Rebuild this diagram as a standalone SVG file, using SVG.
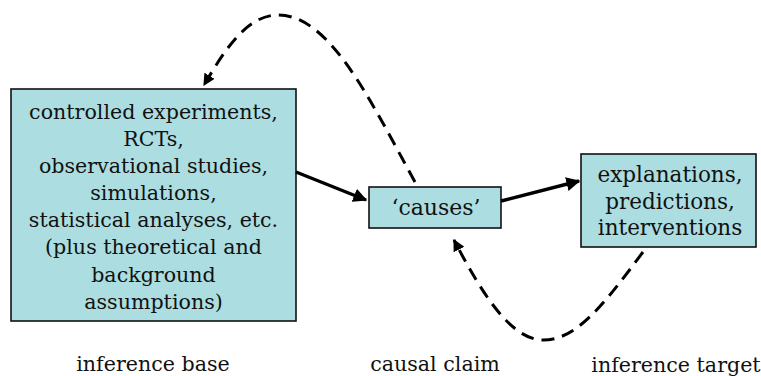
<svg xmlns="http://www.w3.org/2000/svg" width="761" height="376" viewBox="0 0 761 376">
<style>
.box{fill:#acdde1;stroke:#111;stroke-width:1.6}
.t{font-family:"DejaVu Serif","Liberation Serif",serif;font-size:20.6px;fill:#111;text-anchor:middle}
.r{font-size:21.5px}
.c{font-size:22px}
.solid{fill:none;stroke:#000;stroke-width:3.5}
.dash{fill:none;stroke:#000;stroke-width:3;stroke-dasharray:13,8}
</style>
<defs>
<marker id="ah" viewBox="0 0 10 10" refX="9" refY="5" markerWidth="4" markerHeight="4" orient="auto" markerUnits="strokeWidth">
<path d="M0,0 L10,5 L0,10 Z" fill="#000"/>
</marker>
</defs>
<rect width="761" height="376" fill="#fff"/>
<g id="base">
<rect class="box" x="11" y="89" width="285" height="232"/>
<text class="t" x="153.5" y="119">controlled experiments,</text>
<text class="t" x="153.5" y="146">RCTs,</text>
<text class="t" x="153.5" y="173">observational studies,</text>
<text class="t" x="153.5" y="200">simulations,</text>
<text class="t" x="153.5" y="227">statistical analyses, etc.</text>
<text class="t" x="153.5" y="254">(plus theoretical and</text>
<text class="t" x="153.5" y="282">background</text>
<text class="t" x="153.5" y="309">assumptions)</text>
</g>
<g id="claim">
<rect class="box" x="369" y="187" width="132" height="41"/>
<text class="t c" x="436" y="215">‘causes’</text>
</g>
<g id="target">
<rect class="box" x="581" y="154" width="175" height="93"/>
<text class="t r" x="670" y="182">explanations,</text>
<text class="t r" x="670" y="209">predictions,</text>
<text class="t r" x="670" y="235">interventions</text>
</g>
<g id="labels">
<text class="t" x="153" y="371">inference base</text>
<text class="t" x="435" y="371">causal claim</text>
<text class="t" x="676" y="372">inference target</text>
</g>
<g id="connectors">
<path class="solid" d="M296,172 L366,200" marker-end="url(#ah)"/>
<path class="solid" d="M501,201 L579,181" marker-end="url(#ah)"/>
<path class="dash" d="M415,182 C370,100 330,15 278,15 C245,15 222,55 204,85" marker-end="url(#ah)"/>
<path class="dash" d="M643,252 C600,310 575,340 543,340 C510,340 480,290 454,240" marker-end="url(#ah)"/>
</g>
</svg>
